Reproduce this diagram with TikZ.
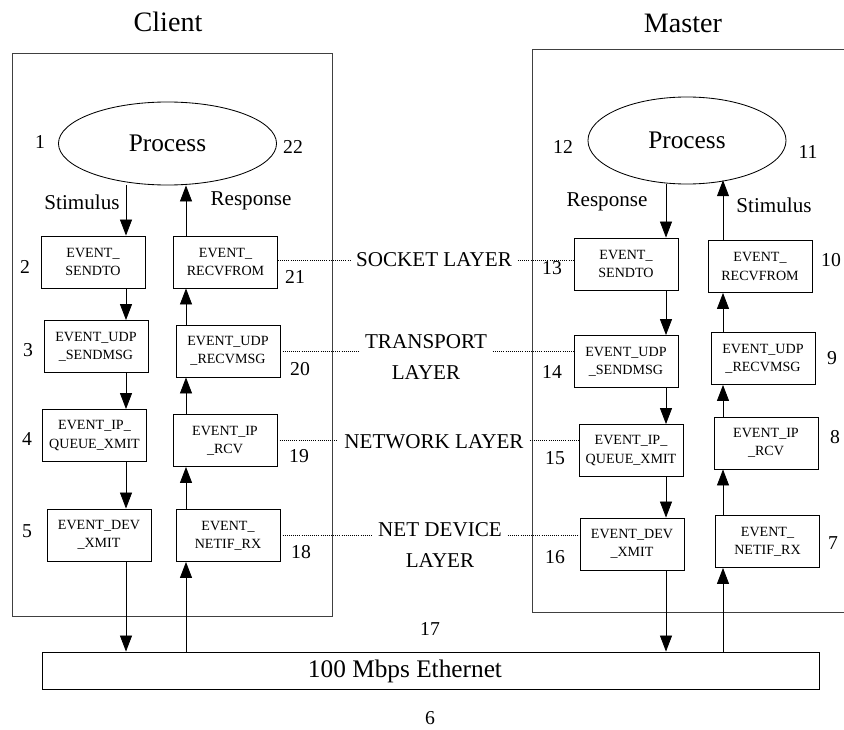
\documentclass[tikz,border=0pt]{standalone}
\usepackage{fontspec}
\setmainfont{Liberation Serif}
\usetikzlibrary{shapes.geometric,arrows.meta}

\tikzset{
	evbox/.style={draw, minimum width=2.6cm, minimum height=1.3cm, align=center, inner sep=1pt, font=\fontsize{10}{13}\selectfont},
	proc/.style={draw, ellipse, inner sep=0pt, font=\fontsize{18}{22}\selectfont},
	num/.style={font=\fontsize{14}{17}\selectfont},
	lbl/.style={font=\fontsize{15}{18}\selectfont},
	layer/.style={align=center, inner sep=4pt, font=\fontsize{15}{22}\selectfont},
	host/.style={font=\fontsize{20}{24}\selectfont},
	frame/.style={draw=black!75},
	flow/.style={-{Triangle[length=4mm,width=3mm]}},
	dotline/.style={densely dotted, line width=0.5pt},
}

\begin{document}
\begin{tikzpicture}[x=0.025cm, y=-0.025cm, line width=0.6pt]
			\clip (0,0) rectangle (844,730);

			% hosts
			\node[host] (client) at (168,22) {Client};
			\node[host] (master) at (683,23) {Master};
			\draw[frame] (12,53) rectangle (332,616);
			\draw[frame] (850,49) -- (532,49) -- (532,612) -- (850,612);

			% client stack
			\node[proc, minimum width=5.45cm, minimum height=2.075cm] (cproc) at (167.5,143.5) {Process};
			\node[evbox] (c2) at (93,262) {EVENT\_\\SENDTO};
			\node[evbox] (c3) at (96,346.5) {EVENT\_UDP\\\_SENDMSG};
			\node[evbox] (c4) at (94.5,435.5) {EVENT\_IP\_\\QUEUE\_XMIT};
			\node[evbox] (c5) at (99,535) {EVENT\_DEV\\\_XMIT};
			\node[evbox] (c21) at (225.5,262) {EVENT\_\\RECVFROM};
			\node[evbox] (c20) at (228,351) {EVENT\_UDP\\\_RECVMSG};
			\node[evbox] (c19) at (225,440.5) {EVENT\_IP\\\_RCV};
			\node[evbox] (c18) at (228,535.5) {EVENT\_\\NETIF\_RX};

			% master stack
			\node[proc, minimum width=4.95cm, minimum height=2.175cm] (mproc) at (687,140.5) {Process};
			\node[evbox] (m13) at (626,264) {EVENT\_\\SENDTO};
			\node[evbox] (m14) at (626,361.5) {EVENT\_UDP\\\_SENDMSG};
			\node[evbox] (m15) at (631,450.5) {EVENT\_IP\_\\QUEUE\_XMIT};
			\node[evbox] (m16) at (632,544) {EVENT\_DEV\\\_XMIT};
			\node[evbox] (m10) at (760,266.5) {EVENT\_\\RECVFROM};
			\node[evbox] (m9) at (763,358.5) {EVENT\_UDP\\\_RECVMSG};
			\node[evbox] (m8) at (766,443) {EVENT\_IP\\\_RCV};
			\node[evbox] (m7) at (767.5,541.5) {EVENT\_\\NETIF\_RX};

			% ethernet
			\node[draw, minimum width=19.4cm, minimum height=0.925cm] (eth) at (431,670.5) {};
			\node[font=\fontsize{18}{22}\selectfont] (ethtext) at (405,671) {100 Mbps Ethernet};

			% lanes
			\coordinate (cdown) at (126,0);
			\coordinate (cup) at (186,0);
			\coordinate (mdown) at (666,0);
			\coordinate (mup) at (723,0);

			% client arrows
			\draw[flow] (cproc.south -| cdown) -- (c2.north -| cdown);
			\draw[flow] (c2.south -| cdown) -- (c3.north -| cdown);
			\draw[flow] (c3.south -| cdown) -- (c4.north -| cdown);
			\draw[flow] (c4.south -| cdown) -- (c5.north -| cdown);
			\draw[flow] (c5.south -| cdown) -- (eth.north -| cdown);
			\draw[flow] (eth.north -| cup) -- (c18.south -| cup);
			\draw[flow] (c18.north -| cup) -- (c19.south -| cup);
			\draw[flow] (c19.north -| cup) -- (c20.south -| cup);
			\draw[flow] (c20.north -| cup) -- (c21.south -| cup);
			\draw[flow] (c21.north -| cup) -- (cproc.south -| cup);

			% master arrows
			\draw[flow] (mproc.south -| mdown) -- (m13.north -| mdown);
			\draw[flow] (m13.south -| mdown) -- (m14.north -| mdown);
			\draw[flow] (m14.south -| mdown) -- (m15.north -| mdown);
			\draw[flow] (m15.south -| mdown) -- (m16.north -| mdown);
			\draw[flow] (m16.south -| mdown) -- (eth.north -| mdown);
			\draw[flow] (eth.north -| mup) -- (m7.south -| mup);
			\draw[flow] (m7.north -| mup) -- (m8.south -| mup);
			\draw[flow] (m8.north -| mup) -- (m9.south -| mup);
			\draw[flow] (m9.north -| mup) -- (m10.south -| mup);
			\draw[flow] (m10.north -| mup) -- ([yshift=3]mproc.south -| mup);

			% arrow labels
			\node[lbl] (cstim) at (82,202) {Stimulus};
			\node[lbl] (cresp) at (251,201) {Response};
			\node[lbl] (mresp) at (607,202) {Response};
			\node[lbl] (mstim) at (774,205) {Stimulus};

			% layers
			\node[layer] (sock) at (434,260) {SOCKET LAYER};
			\node[layer] (trans) at (426,357) {TRANSPORT\\LAYER};
			\node[layer] (netw) at (434,442) {NETWORK LAYER};
			\node[layer] (ndev) at (440,545) {NET DEVICE\\LAYER};
			\draw[dotline] (c21.east |- sock.west) -- (sock.west);
			\draw[dotline] (sock.east) -- (sock.east -| m13.west);
			\draw[dotline] (c20.east) -- (c20.east -| trans.west);
			\draw[dotline] (trans.east |- c20.east) -- (m14.west |- c20.east);
			\draw[dotline] (c19.east) -- (c19.east -| netw.west);
			\draw[dotline] (netw.east |- c19.east) -- (m15.west |- c19.east);
			\draw[dotline] (c18.east) -- (c18.east -| ndev.west);
			\draw[dotline] (ndev.east |- c18.east) -- (m16.west |- c18.east);

			% step numbers
			\node[num] (n1) at (40,142) {1};
			\node[num] (n2) at (25,267) {2};
			\node[num] (n3) at (28,350) {3};
			\node[num] (n4) at (27,439) {4};
			\node[num] (n5) at (27,531) {5};
			\node[num] (n6) at (430,718) {6};
			\node[num] (n7) at (833,543) {7};
			\node[num] (n8) at (835,437) {8};
			\node[num] (n9) at (832,358) {9};
			\node[num] (n10) at (831,260) {10};
			\node[num] (n11) at (808,152) {11};
			\node[num] (n12) at (563,147) {12};
			\node[num] (n13) at (552,268) {13};
			\node[num] (n14) at (552,372) {14};
			\node[num] (n15) at (555,458) {15};
			\node[num] (n16) at (555,557) {16};
			\node[num] (n17) at (430,629) {17};
			\node[num] (n18) at (301,552) {18};
			\node[num] (n19) at (299,456) {19};
			\node[num] (n20) at (300,369) {20};
			\node[num] (n21) at (295,277) {21};
			\node[num] (n22) at (293,147) {22};
		\end{tikzpicture}
\end{document}
